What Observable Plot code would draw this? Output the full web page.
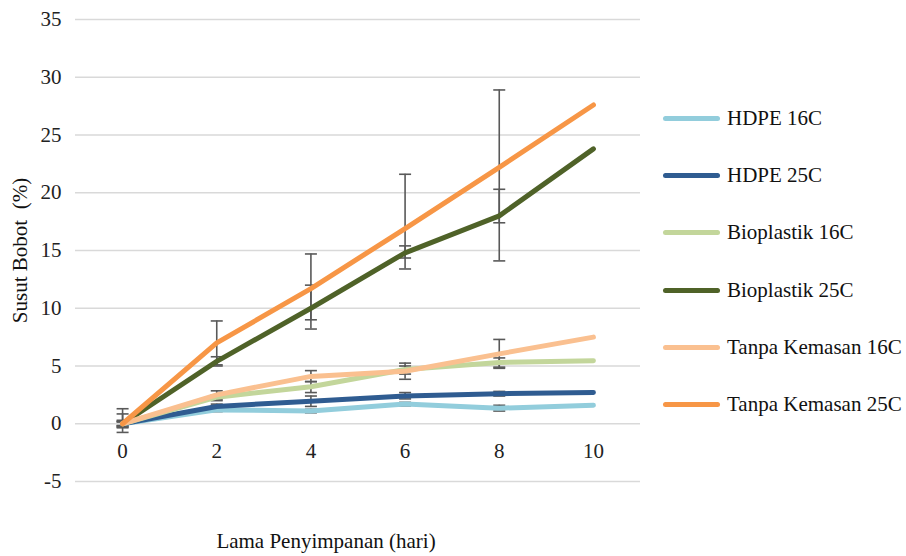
<!DOCTYPE html>
<html>
<head>
<meta charset="utf-8">
<script src="https://cdn.jsdelivr.net/npm/d3@7"></script>
<script src="https://cdn.jsdelivr.net/npm/@observablehq/plot@0.6"></script>
<style>
  html, body { margin: 0; padding: 0; background: #fff; }
  #wrap { position: relative; width: 906px; height: 556px; font-family: "Liberation Serif", "Times New Roman", serif; }
  #wrap svg text { font-family: "Liberation Serif", "Times New Roman", serif; }
  #legend { position: absolute; left: 663px; top: 90px; }
  .item { display: flex; align-items: center; height: 57.2px; font-size: 21px; color: #111; }
  .sw { width: 57px; height: 5px; border-radius: 3px; margin-right: 7px; }
</style>
</head>
<body>
<div id="wrap"><div id="legend"></div></div>
<script>
const days = [0, 2, 4, 6, 8, 10];
const seriesNames = ["HDPE 16C", "HDPE 25C", "Bioplastik 16C", "Bioplastik 25C", "Tanpa Kemasan 16C", "Tanpa Kemasan 25C"];
const seriesColors = ["#92CDDC", "#2F5C91", "#C3D69B", "#4F6228", "#FAC090", "#F79646"];

const hdpe16 = [0, 1.2, 1.1, 1.7, 1.35, 1.6];
const hdpe25 = [0, 1.5, 1.95, 2.4, 2.6, 2.7];
const bio16  = [0, 2.3, 3.2, 4.7, 5.3, 5.45];
const bio25  = [0, 5.4, 10.0, 14.8, 18.0, 23.8];
const tk16   = [0, 2.5, 4.1, 4.55, 6.05, 7.5];
const tk25   = [0, 7.0, 11.7, 16.9, 22.2, 27.6];

// error bar bounds (days 0..8)
const hdpe16Lo = [-0.15, 1.05, 0.95, 1.55, 1.1];
const hdpe16Hi = [0.15, 1.35, 1.25, 1.85, 1.6];
const hdpe25Lo = [-0.2, 1.3, 1.5, 2.15, 2.4];
const hdpe25Hi = [0.2, 1.7, 2.4, 2.7, 2.8];
const bio16Lo  = [-0.2, 2.1, 2.7, 4.3, 4.9];
const bio16Hi  = [0.2, 2.5, 3.65, 5.0, 5.7];
const bio25Lo  = [-0.35, 5.1, 8.2, 14.35, 17.4];
const bio25Hi  = [0.85, 5.8, 12.0, 15.4, 20.3];
const tk16Lo   = [-0.3, 2.0, 3.65, 3.85, 4.8];
const tk16Hi   = [0.3, 2.85, 4.6, 5.25, 7.3];
const tk25Lo   = [-0.75, 5.0, 9.0, 13.4, 14.1];
const tk25Hi   = [1.3, 8.9, 14.7, 21.6, 28.9];

const xTicks = [0, 2, 4, 6, 8, 10];
const yTicks = [-5, 0, 5, 10, 15, 20, 25, 30, 35];

const values = [hdpe16, hdpe25, bio16, bio25, tk16, tk25];
const los = [hdpe16Lo, hdpe25Lo, bio16Lo, bio25Lo, tk16Lo, tk25Lo];
const his = [hdpe16Hi, hdpe25Hi, bio16Hi, bio25Hi, tk16Hi, tk25Hi];

const rows = [];
const errs = [];
const caps = [];
seriesNames.forEach((s, i) => {
  days.forEach((d, j) => {
    rows.push({series: s, day: d, value: values[i][j]});
    if (j < los[i].length) {
      errs.push({series: s, day: d, lo: los[i][j], hi: his[i][j]});
      caps.push({day: d, v: los[i][j]});
      caps.push({day: d, v: his[i][j]});
    }
  });
});

const capSymbol = {
  draw(ctx, size) {
    const r = Math.sqrt(size / Math.PI);
    ctx.moveTo(-r, 0);
    ctx.lineTo(r, 0);
  }
};

const serif = "'Liberation Serif', 'Times New Roman', serif";

const chart = Plot.plot({
  width: 906,
  height: 556,
  marginLeft: 75,
  marginRight: 266,
  marginTop: 19,
  marginBottom: 75,
  style: {fontFamily: serif, fontSize: "21px", color: "#222", background: "#fff"},
  x: {domain: [-1, 11], axis: null},
  y: {domain: [-5, 35], axis: null},
  color: {domain: seriesNames, range: seriesColors},
  marks: [
    Plot.ruleY(yTicks, {stroke: "#d9d9d9", strokeWidth: 1.5}),
    Plot.text(yTicks, {y: d => d, frameAnchor: "left", dx: -14, textAnchor: "end", text: d => String(d), fontSize: 21, fontFamily: serif, fill: "#222"}),
    Plot.text(xTicks, {x: d => d, y: 0, dy: 28, text: d => String(d), fontSize: 21, fontFamily: serif, fill: "#222"}),
    Plot.ruleX(errs, {x: "day", y1: "lo", y2: "hi", stroke: "#595959", strokeWidth: 1.6}),
    Plot.dot(caps, {x: "day", y: "v", r: 6, symbol: capSymbol, stroke: "#595959", strokeWidth: 1.6, fill: "none"}),
    Plot.line(rows, {x: "day", y: "value", z: "series", stroke: "series", strokeWidth: 5, strokeLinecap: "round", strokeLinejoin: "round"}),
    Plot.text(["Lama Penyimpanan (hari)"], {frameAnchor: "bottom", dx: -32, dy: 66, textAnchor: "middle", text: d => d, fontSize: 21, fontFamily: serif, fill: "#111"}),
    Plot.text(["Susut Bobot  (%)"], {frameAnchor: "left", dx: -55, rotate: -90, textAnchor: "middle", text: d => d, fontSize: 21, fontFamily: serif, fill: "#111"})
  ]
});

const wrap = document.getElementById("wrap");
wrap.insertBefore(chart, wrap.firstChild);

const legend = document.getElementById("legend");
seriesNames.forEach((s, i) => {
  const it = document.createElement("div");
  it.className = "item";
  const sw = document.createElement("span");
  sw.className = "sw";
  sw.style.background = seriesColors[i];
  const tx = document.createElement("span");
  tx.textContent = s;
  it.appendChild(sw);
  it.appendChild(tx);
  legend.appendChild(it);
});
</script>
</body>
</html>
